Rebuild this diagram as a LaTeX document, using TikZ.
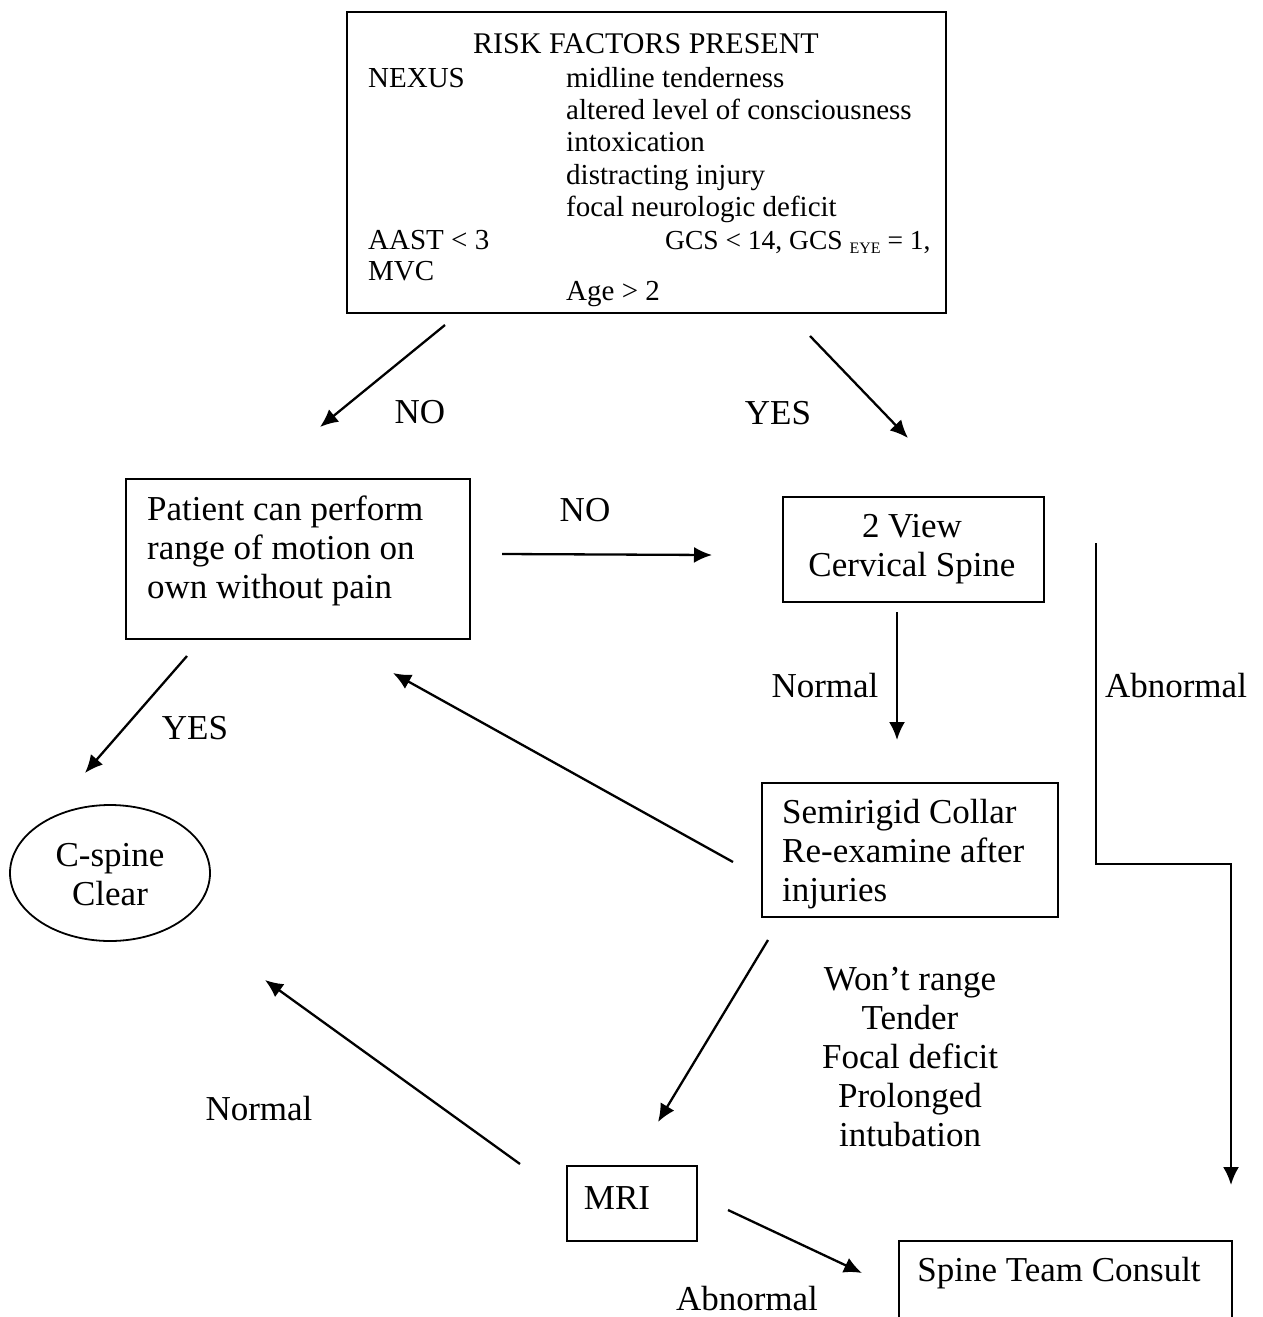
\documentclass[tikz,border=0pt]{standalone}
\usepackage{fontspec}
\setmainfont{Liberation Serif}
\usetikzlibrary{shapes.geometric,arrows.meta}
\begin{document}
\begin{tikzpicture}[x=1pt,y=-1pt,
  box/.style={draw, line width=2.2pt, inner sep=0pt, anchor=north west},
  big/.style={font=\fontsize{35}{39}\selectfont, inner sep=0pt},
  sm/.style={font=\fontsize{29}{32}\selectfont, inner sep=0pt, anchor=base west},
  arr/.style={line width=2.3pt, -{Latex[length=18pt,width=16pt]}},
]
\useasboundingbox (0,0) rectangle (1262,1317);
\clip (0,0) rectangle (1262,1317);

% ---------- top box ----------
\node[box, minimum width=599, minimum height=301] (risk) at (346,11) {};
\node[sm, anchor=base, font=\fontsize{30}{32}\selectfont] (title) at (646,53) {RISK FACTORS PRESENT};
\node[sm] (nexus) at (368,87) {NEXUS};
\node[sm] (r1) at (566,87) {midline tenderness};
\node[sm] (r2) at (566,119) {altered level of consciousness};
\node[sm] (r3) at (566,151) {intoxication};
\node[sm] (r4) at (566,184) {distracting injury};
\node[sm] (r5) at (566,216) {focal neurologic deficit};
\node[sm] (aast) at (368,249) {AAST < 3};
\node[sm, font=\fontsize{27.5}{32}\selectfont] (gcs) at (665,249) {GCS < 14, GCS {\fontsize{16}{18}\selectfont\raisebox{-4pt}{EYE}} = 1,};
\node[sm] (mvc) at (368,280) {MVC};
\node[sm] (age) at (566,300) {Age > 2};

% ---------- boxes ----------
\node[box, minimum width=344, minimum height=160] (pat) at (125,478) {};
\node[big, anchor=west, align=left] (pattxt) at (147,551) {Patient can perform\\range of motion on\\own without pain};

\node[box, minimum width=261, minimum height=105] (view) at (782,496) {};
\node[big, align=center] (viewtxt) at (912,549) {2 View\\Cervical Spine};

\node[box, minimum width=296, minimum height=134] (semi) at (761,782) {};
\node[big, anchor=west, align=left] (semitxt) at (782,854) {Semirigid Collar\\Re-examine after\\injuries};

\node[draw, ellipse, line width=1.8pt, minimum width=200, minimum height=136, inner sep=0pt] (clear) at (110,873) {};
\node[big, align=center] (cleartxt) at (110,875) {C-spine\\Clear};

\node[box, minimum width=130, minimum height=75] (mri) at (566,1165) {};
\node[big] (mritxt) at (617,1198) {MRI};

\node[box, minimum width=333, minimum height=130] (spine) at (898,1240) {};
\node[big] (spinetxt) at (1059,1273) {Spine Team Consult};

% ---------- connector end points ----------
\coordinate (c1) at (445,325);  \coordinate (c2) at (320,427);
\coordinate (c3) at (810,336);  \coordinate (c4) at (908,438);
\coordinate (c5) at (502,554);  \coordinate (c6) at (712,555);
\coordinate (c7) at (897,612);  \coordinate (c8) at (897,740);
\coordinate (c9) at (1096,543); \coordinate (c10) at (1096,864);
\coordinate (c10b) at (1231,864); \coordinate (c11) at (1231,1185);
\coordinate (c12) at (733,862); \coordinate (c13) at (393,673);
\coordinate (c14) at (187,656); \coordinate (c15) at (85,773);
\coordinate (c16) at (768,940); \coordinate (c17) at (658,1122);
\coordinate (c18) at (520,1164);\coordinate (c19) at (265,980);
\coordinate (c20) at (728,1210);\coordinate (c21) at (862,1273);

% ---------- connectors ----------
\draw[arr] (c1) -- (c2);
\draw[arr] (c3) -- (c4);
\draw[arr] (c5) -- (c6);
\draw[arr] (c7) -- (c8);
\draw[arr] (c9) -- (c10) -- (c10b) -- (c11);
\draw[arr] (c12) -- (c13);
\draw[arr] (c14) -- (c15);
\draw[arr] (c16) -- (c17);
\draw[arr] (c18) -- (c19);
\draw[arr] (c20) -- (c21);

% ---------- labels ----------
\node[big] (lno1) at (420,412) {NO};
\node[big] (lyes1) at (778,413) {YES};
\node[big] (lno2) at (585,510) {NO};
\node[big] (lnorm1) at (825,686) {Normal};
\node[big] (labn1) at (1176,686) {Abnormal};
\node[big] (lyes2) at (195,728) {YES};
\node[big, align=center] (lwont) at (910,1057) {Won’t range\\Tender\\Focal deficit\\Prolonged\\intubation};
\node[big] (lnorm2) at (259,1109) {Normal};
\node[big] (labn2) at (747,1299) {Abnormal};
\end{tikzpicture}
\end{document}
